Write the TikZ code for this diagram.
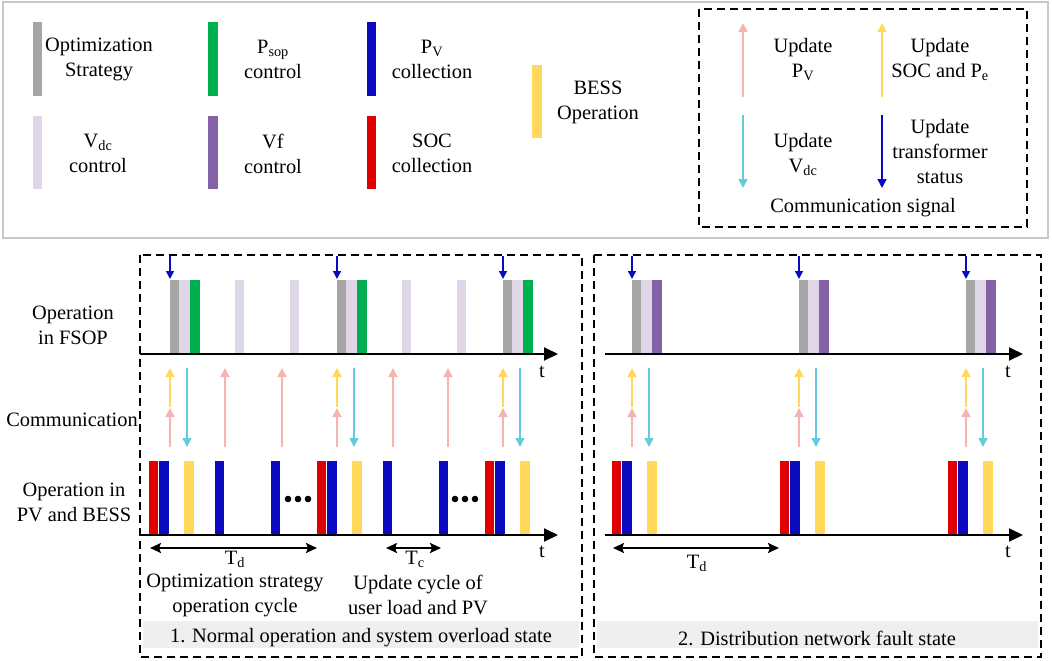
\documentclass[tikz,border=0pt]{standalone}
\usepackage{fontspec}
\setmainfont{Liberation Serif}
\usetikzlibrary{arrows.meta}
\definecolor{optgray}{HTML}{A6A6A6}
\definecolor{vdclav}{HTML}{DFD6E8}
\definecolor{sopgreen}{HTML}{00B050}
\definecolor{pvblue}{HTML}{0A0AC0}
\definecolor{vfpurple}{HTML}{8462A6}
\definecolor{socred}{HTML}{E00000}
\definecolor{bessgold}{HTML}{FFD85C}
\definecolor{sigpink}{HTML}{F4B4B0}
\definecolor{sigcyan}{HTML}{62CCDE}
\definecolor{legframe}{HTML}{C8C8C8}
\definecolor{bandgray}{HTML}{EFEFEF}

\begin{document}
\begin{tikzpicture}[x=1pt,y=-1pt]
    \tikzstyle{lbl}=[inner sep=0pt,align=center,font=\fontsize{20.4}{25}\selectfont]
    \tikzstyle{dashbox}=[draw=black,line width=1.5pt,dash pattern=on 8pt off 5pt]
    \tikzstyle{axisarrow}=[line width=2pt,-{Triangle[length=14pt,width=13pt]}]
    \tikzstyle{sigarrow}=[line width=1.6pt,-{Triangle[length=9pt,width=9pt]}]
    \tikzstyle{spanarrow}=[line width=2pt,{Stealth[length=11pt,width=10pt,inset=2pt]}-{Stealth[length=11pt,width=10pt,inset=2pt]}]
    \useasboundingbox (0,0) rectangle (1052,661);

    % legend
    \draw[draw=legframe,line width=1.5pt] (3,2) rectangle (1048,238);
    \fill[optgray] (33,22) rectangle (42,96);
    \fill[sopgreen] (208,22) rectangle (218,96);
    \fill[pvblue] (367,22) rectangle (376,96);
    \fill[vdclav] (33,116) rectangle (42,189);
    \fill[vfpurple] (208,116) rectangle (218,189);
    \fill[socred] (367,116) rectangle (376,189);
    \fill[bessgold] (532,65) rectangle (542,138);
    \node[lbl] (lopt) at (99,59.5) {Optimization\\Strategy};
    \node[lbl] (lsop) at (273,59.5) {P\textsubscript{sop}\\control};
    \node[lbl] (lpv) at (432,59.5) {P\textsubscript{V}\\collection};
    \node[lbl] (lvdc) at (98,153.5) {V\textsubscript{dc}\\control};
    \node[lbl] (lvf) at (273,153.5) {Vf\\control};
    \node[lbl] (lsoc) at (432,153.5) {SOC\\collection};
    \node[lbl] (lbess) at (598,102) {BESS\\Operation};

    \draw[dashbox] (699,9) rectangle (1027,227);
    \coordinate (pa) at (743,97);
    \coordinate (pb) at (743,23);
    \coordinate (ya) at (882,97);
    \coordinate (yb) at (882,23);
    \coordinate (ca) at (743,115);
    \coordinate (cb) at (743,188);
    \coordinate (ba) at (882,115);
    \coordinate (bb) at (882,188);
    \draw[sigarrow,sigpink] (pa) -- (pb);
    \draw[sigarrow,bessgold] (ya) -- (yb);
    \draw[sigarrow,sigcyan] (ca) -- (cb);
    \draw[sigarrow,pvblue] (ba) -- (bb);
    \node[lbl] (upv) at (803,59.5) {Update\\P\textsubscript{V}};
    \node[lbl] (usoc) at (940,59.5) {Update\\SOC and P\textsubscript{e}};
    \node[lbl] (uvdc) at (803,154.5) {Update\\V\textsubscript{dc}};
    \node[lbl] (utr) at (940,152) {Update\\transformer\\status};
    \node[lbl] (csig) at (863,208) {Communication signal};

    % panels
    \fill[bandgray] (143,621) rectangle (579,648);
    \fill[bandgray] (597,621) rectangle (1038,648);
    \draw[dashbox] (140,255) rectangle (582,657);
    \draw[dashbox] (594,255) rectangle (1041,657);
    \node[lbl] (st1) at (361,638) {1. Normal operation and system overload state};
    \node[lbl] (st2) at (817,638) {2. Distribution network fault state};

    \node[lbl] (rfsop) at (73,325) {Operation\\in FSOP};
    \node[lbl] (rcom) at (72,420) {Communication};
    \node[lbl] (rpv) at (74,502) {Operation in\\PV and BESS};

    % FSOP bars
    \foreach \x/\c in {170/sopgreen,337/sopgreen,503/sopgreen,632/vfpurple,799/vfpurple,966/vfpurple}{
        \fill[optgray] (\x,280) rectangle (\x+9,354);
        \fill[vdclav] (\x+9,280) rectangle (\x+20,354);
        \fill[\c] (\x+20,280) rectangle (\x+30,354);
        \draw[line width=1.5pt,pvblue,-{Triangle[length=8pt,width=8pt]}] (\x,256) -- (\x,279);
        \draw[sigarrow,bessgold] (\x,407) -- (\x,368);
        \draw[sigarrow,sigpink] (\x,447) -- (\x,408);
        \draw[sigarrow,sigcyan] (\x+17,368) -- (\x+17,447);
    }
    \foreach \x in {235,290,402,457}
        \fill[vdclav] (\x,280) rectangle (\x+9,354);
    \foreach \x in {225,282,393,448}
        \draw[sigarrow,sigpink] (\x,447) -- (\x,368);

    % PV and BESS bars
    \foreach \x in {149,317,485,612,780,948}{
        \fill[socred] (\x,461) rectangle (\x+9,535);
        \fill[pvblue] (\x+10,461) rectangle (\x+20,535);
        \fill[bessgold] (\x+35,461) rectangle (\x+45,535);
    }
    \foreach \x in {215,271,383,439}
        \fill[pvblue] (\x,461) rectangle (\x+9,535);
    \foreach \x in {298,465}{
        \fill (\x-10,499) circle[radius=3.3pt];
        \fill (\x,499) circle[radius=3.3pt];
        \fill (\x+10,499) circle[radius=3.3pt];
    }

    % time axes
    \coordinate (f1) at (140,354);
    \coordinate (f2) at (558,354);
    \coordinate (f3) at (605,354);
    \coordinate (f4) at (1023,354);
    \coordinate (b1) at (140,535);
    \coordinate (b2) at (558,535);
    \coordinate (b3) at (605,535);
    \coordinate (b4) at (1023,535);
    \draw[axisarrow] (f1) -- (f2);
    \draw[axisarrow] (f3) -- (f4);
    \draw[axisarrow] (b1) -- (b2);
    \draw[axisarrow] (b3) -- (b4);
    \node[lbl] (t1) at (542,372) {t};
    \node[lbl] (t2) at (1008,372) {t};
    \node[lbl] (t3) at (542,552) {t};
    \node[lbl] (t4) at (1008,552) {t};

    % cycles
    \coordinate (d1) at (150,548);
    \coordinate (d2) at (317,548);
    \coordinate (c1) at (386,548);
    \coordinate (c2) at (441,548);
    \coordinate (d3) at (613,548);
    \coordinate (d4) at (779,548);
    \draw[spanarrow] (d1) -- (d2);
    \draw[spanarrow] (c1) -- (c2);
    \draw[spanarrow] (d3) -- (d4);
    \node[lbl] (td1) at (235,559) {T\textsubscript{d}};
    \node[lbl] (tc) at (415,559) {T\textsubscript{c}};
    \node[lbl] (td2) at (697,563) {T\textsubscript{d}};
    \node[lbl] (cyc1) at (235,595) {Optimization strategy\\operation cycle};
    \node[lbl] (cyc2) at (418,595) {Update cycle of\\user load and PV};
\end{tikzpicture}
\end{document}
